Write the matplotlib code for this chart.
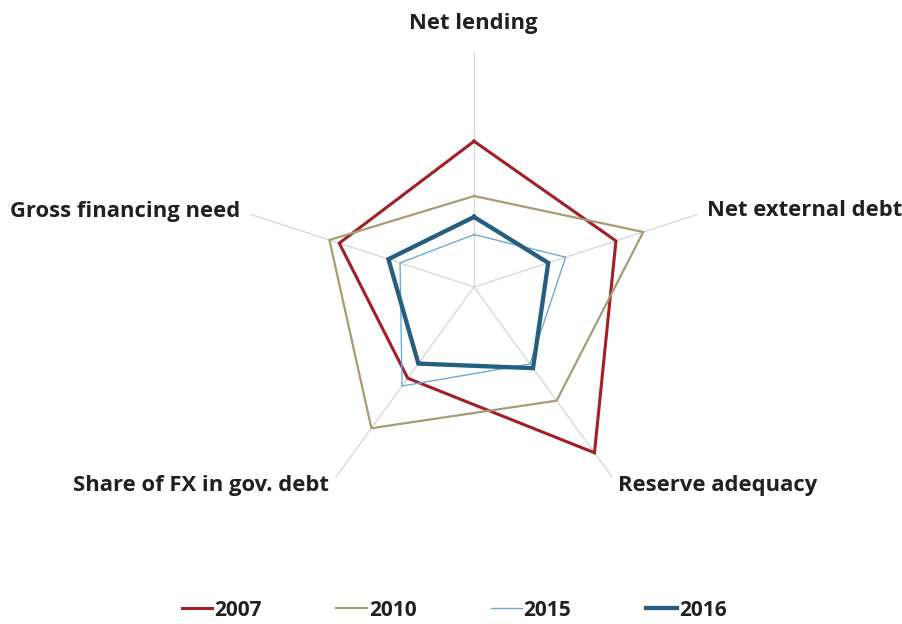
import matplotlib.pyplot as plt
import numpy as np

plt.rcParams['font.family'] = ['Open Sans', 'DejaVu Sans']

categories = ["Net lending", "Net external debt", "Reserve adequacy",
              "Share of FX in gov. debt", "Gross financing need"]
years = ["2007", "2010", "2015", "2016"]
v2007 = [0.62, 0.635, 0.872, 0.48, 0.603]
v2010 = [0.387, 0.757, 0.598, 0.743, 0.647]
v2015 = [0.223, 0.41, 0.405, 0.521, 0.331]
v2016 = [0.298, 0.332, 0.427, 0.403, 0.383]

colors = ["#A31F24", "#A69C75", "#6FAAD3", "#245F80"]
widths = [2.2, 1.6, 1.0, 3.1]

fig = plt.figure(figsize=(9.03, 6.24), dpi=100)
ax = fig.add_axes([0.2647, 0.1635, 0.5205, 0.7532], projection='polar')
ax.set_theta_zero_location('N')
ax.set_theta_direction(-1)

theta = np.linspace(0, 2 * np.pi, len(categories), endpoint=False)

for t in theta:
    ax.plot([t, t], [0, 1], color="#D9D9D9", lw=1.0, zorder=1)

for vals, name, c, w in zip([v2007, v2010, v2015, v2016], years, colors, widths):
    tt = np.append(theta, theta[0])
    rr = np.append(vals, vals[0])
    ax.plot(tt, rr, color=c, lw=w, label=name, zorder=3, solid_joinstyle='miter')

ax.set_ylim(0, 1)
ax.grid(False)
ax.spines['polar'].set_visible(False)
ax.set_xticks([])
ax.set_yticks([])
ax.patch.set_visible(False)

lab = dict(fontsize=15.8, fontweight='bold', color='#231F20', va='center')
fig.text(473 / 903, 1 - 24 / 624, categories[0], ha='center', **lab)
fig.text(707 / 903, 1 - 211 / 624, categories[1], ha='left', **lab)
fig.text(618 / 903, 1 - 486 / 624, categories[2], ha='left', **lab)
fig.text(329 / 903, 1 - 486 / 624, categories[3], ha='right', **lab)
fig.text(240 / 903, 1 - 211 / 624, categories[4], ha='right', **lab)

leg = fig.legend(loc='center', bbox_to_anchor=(454 / 903, 1 - 610 / 624), ncol=4,
                 frameon=False, handlelength=1.45, handletextpad=0.1,
                 columnspacing=3.6, prop={'size': 15, 'weight': 'bold'})
for t in leg.get_texts():
    t.set_color('#231F20')

fig.savefig("out.png", dpi=100)
